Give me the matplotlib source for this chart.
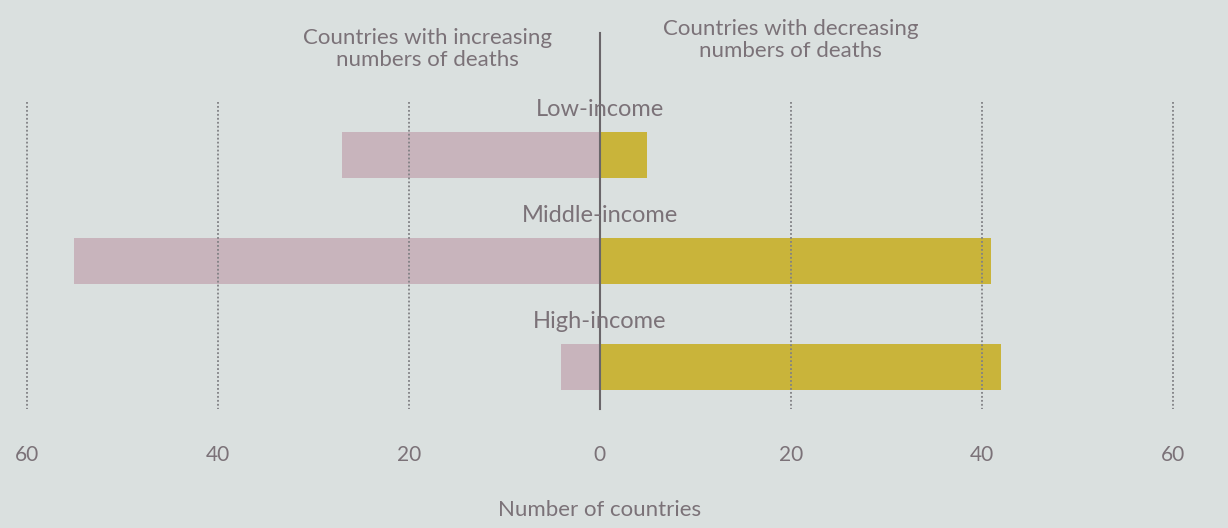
import matplotlib.pyplot as plt

# values (number of countries)
categories = ['Low-income', 'Middle-income', 'High-income']
increasing = [27, 55, 4]
decreasing = [5, 41, 42]
tick_values = [-60, -40, -20, 0, 20, 40, 60]
tick_labels = ['60', '40', '20', '0', '20', '40', '60']

bg = '#dae0df'
pink = '#c8b4bc'
yellow = '#c9b43a'
text_col = '#7b7278'

plt.rcParams['font.family'] = ['Lato', 'DejaVu Sans']

fig = plt.figure(figsize=(12.28, 5.28), dpi=100, facecolor=bg)
ax = fig.add_axes([0, 0, 1, 1])
ax.set_facecolor(bg)
ax.set_xlim(-62.8, 65.8)
ax.set_ylim(3.52, -1.46)
ax.axis('off')

pos = list(range(len(categories)))

# dotted grid lines
for v in tick_values:
    if v != 0:
        ax.plot([v, v], [-0.5, 2.4], color='#808084', lw=1.3, ls=(0, (1, 1.2)))

ax.barh(pos, [-v for v in increasing], height=0.43, color=pink)
ax.barh(pos, decreasing, height=0.43, color=yellow)

# zero line
ax.plot([0, 0], [-1.15, 2.4], color='#6a666a', lw=1.5)

for p, name in zip(pos, categories):
    ax.text(0, p - 0.33, name, ha='center', va='bottom', fontsize=17, color=text_col)

for v, lab in zip(tick_values, tick_labels):
    ax.text(v, 2.83, lab, ha='center', va='center', fontsize=15, color=text_col)

ax.text(0, 3.35, 'Number of countries', ha='center', va='center', fontsize=16, color=text_col)

ax.text(-18, -1.0, 'Countries with increasing\nnumbers of deaths', ha='center', va='center',
        fontsize=16, color=text_col, linespacing=1.1)
ax.text(20, -1.08, 'Countries with decreasing\nnumbers of deaths', ha='center', va='center',
        fontsize=16, color=text_col, linespacing=1.1)

fig.savefig('out.png', dpi=100, facecolor=bg)
